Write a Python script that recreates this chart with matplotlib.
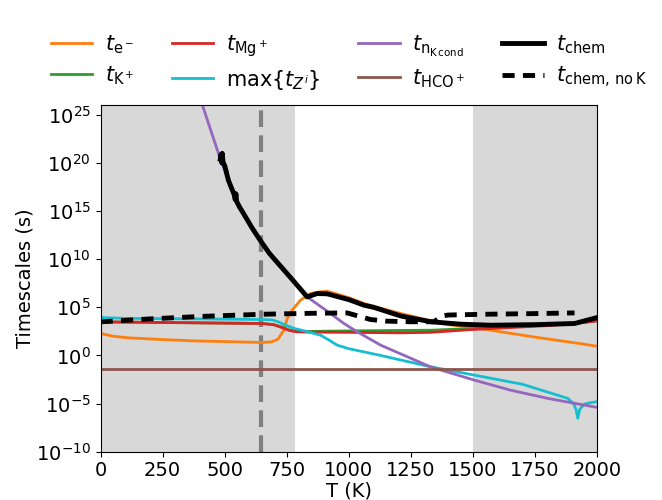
import matplotlib
matplotlib.use('Agg')
import matplotlib.pyplot as plt
import numpy as np

# temperatures (K) and log10 timescales (s)
T_e = [0, 50, 111, 250, 381, 520, 650, 690, 715, 738, 751, 771, 805, 845, 880, 913,
       950, 1000, 1061, 1100, 1209, 1330, 1400, 1500, 1572, 1750, 1900, 2000]
log_e = [2.28, 2.0, 1.83, 1.65, 1.51, 1.43, 1.35, 1.42, 1.7, 2.62, 3.8, 4.7, 5.74, 6.43, 6.6, 6.67,
         6.4, 6.0, 5.4, 5.1, 4.36, 3.6, 3.2, 2.9, 2.62, 1.9, 1.35, 0.96]

T_K = [0, 650, 697, 730, 760, 791, 850, 1000, 1209, 1330, 1500, 1800, 1900, 2000]
log_K = [3.49, 3.32, 3.2, 2.95, 2.65, 2.5, 2.5, 2.55, 2.6, 2.62, 2.8, 3.15, 3.3, 3.6]

T_Mg = [0, 650, 697, 730, 760, 791, 850, 1000, 1209, 1330, 1500, 1800, 1900, 2000]
log_Mg = [3.49, 3.32, 3.2, 2.9, 2.6, 2.45, 2.42, 2.4, 2.35, 2.4, 2.7, 3.1, 3.3, 3.59]

T_Z = [0, 100, 400, 650, 690, 715, 740, 780, 830, 886, 920, 953, 1000, 1128, 1330, 1505, 1700,
       1882, 1905, 1915, 1922, 1930, 1949, 1975, 2000]
log_Z = [3.94, 3.85, 3.8, 3.73, 3.7, 3.5, 3.2, 2.8, 2.5, 2.1, 1.6, 1.07, 0.7, 0.0, -1.18, -2.04, -3.0,
         -4.46, -5.0, -5.6, -6.54, -5.6, -5.05, -4.9, -4.81]

T_n = [380, 412, 450, 482, 515, 542, 576, 610, 643, 680, 724, 780, 832, 926, 980, 1034, 1128, 1330,
       1505, 1650, 1801, 2000]
log_n = [28.5, 25.86, 22.9, 20.43, 18.18, 16.4, 14.73, 13.25, 11.96, 10.6, 9.3, 7.65, 6.08, 4.36, 3.32,
         2.45, 1.07, -1.2, -2.56, -3.6, -4.46, -5.4]

T_HCO = [0, 2000]
log_HCO = [-1.42, -1.42]

T_chem = [482, 485, 488, 490, 493, 500, 515, 538, 542, 545, 548, 560, 576, 610, 643, 680, 724, 780, 832,
          872, 913, 1000, 1061, 1100, 1209, 1330, 1450, 1572, 1750, 1909, 2000]
log_chem = [20.4, 20.9, 20.0, 21.0, 20.1, 19.7, 18.18, 16.7, 16.2, 16.8, 16.0, 15.4, 14.73, 13.25, 11.96,
            10.6, 9.3, 7.65, 6.08, 6.43, 6.4, 5.8, 5.22, 5.0, 4.1, 3.5, 3.25, 3.14, 3.2, 3.32, 3.94]

T_noK = [0, 200, 400, 650, 850, 993, 1088, 1155, 1250, 1343, 1375, 1400, 1550, 1750, 1909]
log_noK = [3.49, 3.8, 4.05, 4.28, 4.38, 4.42, 3.73, 3.56, 3.5, 3.5, 4.1, 4.2, 4.28, 4.35, 4.42]

series = [
    (T_e, log_e, 'C1', r'$t_{\rm e^-}$'),
    (T_K, log_K, 'C2', r'$t_{\rm K^+}$'),
    (T_Mg, log_Mg, 'C3', r'$t_{\rm Mg^+}$'),
    (T_Z, log_Z, 'C9', r'$\max\{t_{Z^i}\}$'),
    (T_n, log_n, 'C4', r'$t_{\rm n_{K\,cond}}$'),
    (T_HCO, log_HCO, 'C5', r'$t_{\rm HCO^+}$'),
]

fig = plt.figure(figsize=(6.62, 5.0), dpi=100)
ax = fig.add_axes([0.152, 0.0966, 0.750, 0.693])

ax.axvspan(0, 782, color='gray', alpha=0.3, lw=0)
ax.axvspan(1502, 2000, color='gray', alpha=0.3, lw=0)
ax.axvline(646, color='gray', ls='--', lw=3, dashes=(4, 2))

for T, lg, c, lab in series:
    ax.plot(T, 10.0 ** np.array(lg), color=c, lw=2, label=lab)
ax.plot(T_chem, 10.0 ** np.array(log_chem), color='black', lw=3.5, label=r'$t_{\rm chem}$')
ax.plot(T_noK, 10.0 ** np.array(log_noK), color='black', lw=3.5, ls='--', dashes=(2.5, 1.7),
        label=r'$t_{\rm chem,\,no\,K}$')

ax.set_yscale('log')
ax.set_xlim(0, 2000)
ax.set_ylim(1e-10, 1e26)
ax.set_yticks([10.0 ** k for k in range(-10, 26, 5)])
ax.minorticks_off()
ax.tick_params(labelsize=14)
ax.set_xlabel('T (K)', fontsize=14, labelpad=1)
ax.set_ylabel('Timescales (s)', fontsize=14, labelpad=1)

ax.legend(ncol=4, loc='lower center', bbox_to_anchor=(0.5, 0.985), frameon=False, fontsize=15,
          handlelength=2.0, columnspacing=1.8, handletextpad=0.6, labelspacing=0.4)

fig.savefig('out.png', dpi=100)
